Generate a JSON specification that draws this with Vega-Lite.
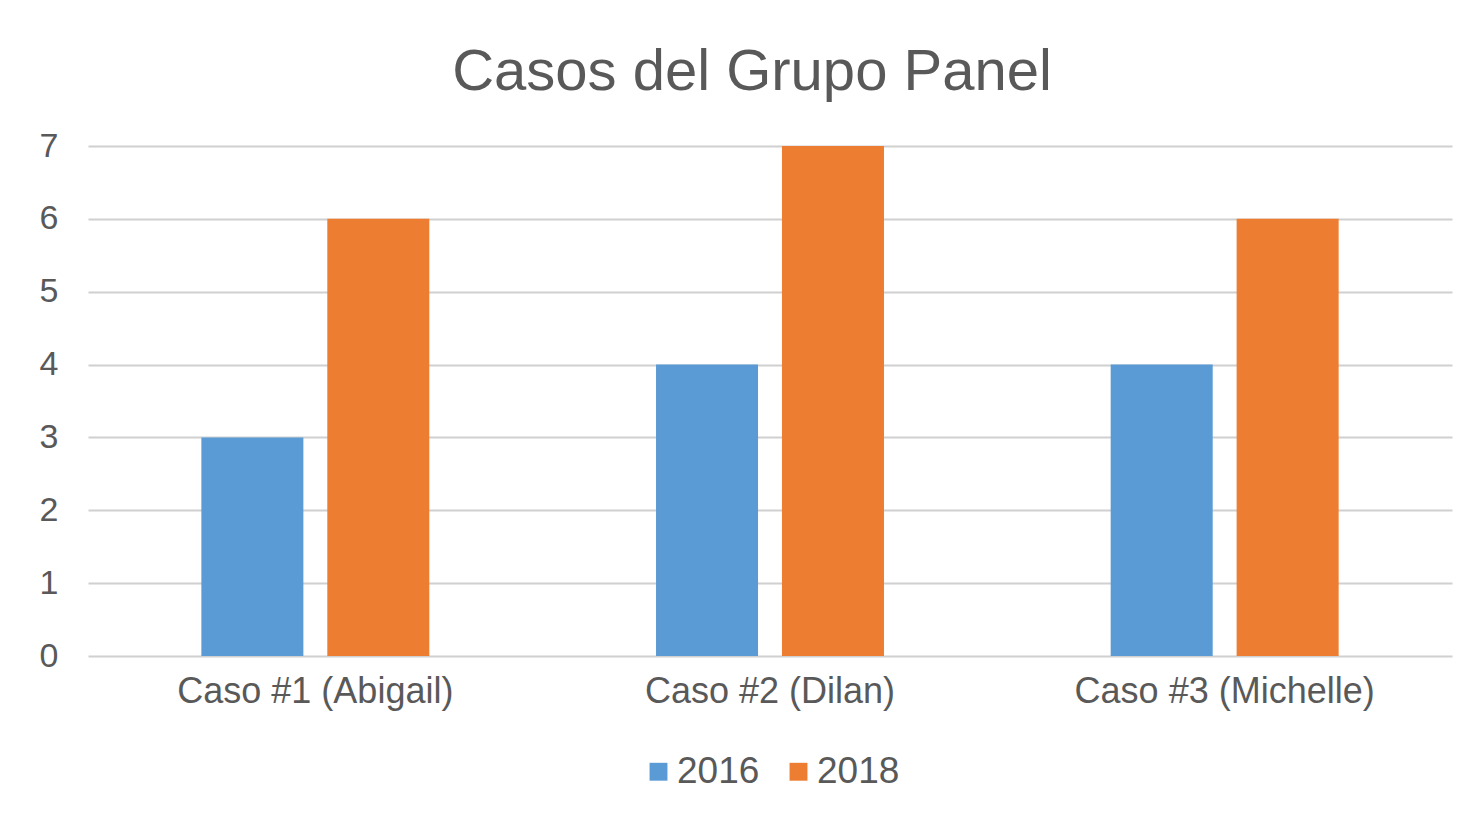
{
  "$schema": "https://vega.github.io/schema/vega-lite/v6.json",
  "autosize": "none",
  "width": 1364,
  "height": 510,
  "padding": {"left": 88, "top": 146, "right": 19, "bottom": 162},
  "background": "white",
  "title": {
    "text": "Casos del Grupo Panel",
    "font": "Liberation Sans",
    "fontSize": 58,
    "fontWeight": "normal",
    "color": "#595959",
    "anchor": "middle",
    "baseline": "alphabetic",
    "dx": -18,
    "offset": -19
  },
  "data": {
    "values": [
      {"caso": "Caso #1 (Abigail)", "year": "2016", "value": 3},
      {"caso": "Caso #1 (Abigail)", "year": "2018", "value": 6},
      {"caso": "Caso #2 (Dilan)", "year": "2016", "value": 4},
      {"caso": "Caso #2 (Dilan)", "year": "2018", "value": 7},
      {"caso": "Caso #3 (Michelle)", "year": "2016", "value": 4},
      {"caso": "Caso #3 (Michelle)", "year": "2018", "value": 6}
    ]
  },
  "mark": {"type": "bar"},
  "encoding": {
    "x": {
      "field": "caso",
      "type": "nominal",
      "sort": null,
      "scale": {"paddingInner": 0, "paddingOuter": 0},
      "axis": {
        "title": null,
        "labelAngle": 0,
        "labelFont": "Liberation Sans",
        "labelFontSize": 36,
        "labelColor": "#595959",
        "labelPadding": 18,
        "labelLimit": 0,
        "domain": false,
        "ticks": false,
        "grid": false
      }
    },
    "xOffset": {
      "field": "year",
      "type": "nominal",
      "scale": {"paddingInner": 0.19, "paddingOuter": 0.9}
    },
    "y": {
      "field": "value",
      "type": "quantitative",
      "scale": {"domain": [0, 7], "nice": false},
      "axis": {
        "title": null,
        "values": [0, 1, 2, 3, 4, 5, 6, 7],
        "labelFont": "Liberation Sans",
        "labelFontSize": 34,
        "labelColor": "#595959",
        "labelPadding": 30,
        "domain": false,
        "ticks": false,
        "grid": true,
        "gridColor": "#d0d0d0",
        "gridWidth": 2
      }
    },
    "color": {
      "field": "year",
      "type": "nominal",
      "scale": {"domain": ["2016", "2018"], "range": ["#5B9BD5", "#ED7D31"]},
      "legend": {
        "title": null,
        "orient": "bottom",
        "direction": "horizontal",
        "symbolType": "square",
        "symbolSize": 320,
        "symbolStrokeWidth": 0,
        "labelFont": "Liberation Sans",
        "labelFontSize": 37,
        "labelColor": "#595959",
        "labelOffset": 0,
        "columnPadding": 20,
        "offset": 44
      }
    }
  },
  "config": {
    "view": {"stroke": null},
    "legend": {"layout": {"bottom": {"anchor": "middle"}}}
  }
}
